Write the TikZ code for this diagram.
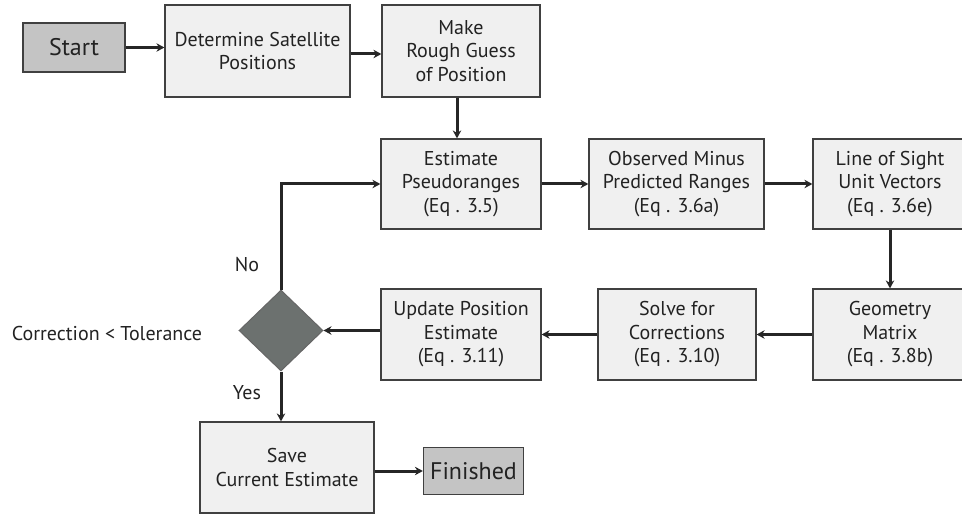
\documentclass[tikz,border=0pt]{standalone}
\usepackage{fontspec}
\setmainfont{PT Sans}
\usetikzlibrary{arrows.meta}
\usetikzlibrary{shapes.geometric}
\definecolor{boxfill}{HTML}{F0F0F0}
\definecolor{endfill}{HTML}{C4C4C4}
\definecolor{decfill}{HTML}{6C716F}
\definecolor{edgegray}{HTML}{404040}
\definecolor{textgray}{HTML}{222222}
\tikzset{
  stepbox/.style={draw=edgegray, line width=1.2pt, fill=boxfill, align=center,
    text=textgray, inner sep=0pt, font=\fontsize{20}{23.5}\selectfont},
  endbox/.style={stepbox, fill=endfill, font=\fontsize{24}{28}\selectfont},
  decision/.style={diamond, draw=edgegray!80, line width=1pt, fill=decfill, inner sep=0pt},
  flow/.style={line width=3pt, draw=black!85, -{Stealth[length=8pt,width=8.5pt]}},
  tag/.style={text=textgray, font=\fontsize{20}{23.5}\selectfont}
}
\begin{document}
\begin{tikzpicture}[x=1pt,y=-1pt]
	\useasboundingbox (0,0) rectangle (962,516);
	\clip (0,0) rectangle (962,516);
	% boxes
	\node[endbox, minimum width=102pt, minimum height=49pt] (start) at (74,47.5) {Start};
	\node[stepbox, minimum width=185pt, minimum height=92pt] (determine) at (257.5,51) {Determine Satellite\\Positions};
	\node[stepbox, minimum width=158pt, minimum height=92pt] (guess) at (461,51) {Make\\Rough Guess\\of Position};
	\node[stepbox, minimum width=160pt, minimum height=90pt] (estimate) at (461,184) {Estimate\\Pseudoranges\\(Eq . 3.5)};
	\node[stepbox, minimum width=175pt, minimum height=90pt] (observed) at (676.5,184) {Observed Minus\\Predicted Ranges\\(Eq . 3.6a)};
	\node[stepbox, minimum width=154pt, minimum height=90pt] (los) at (890,184) {Line of Sight\\Unit Vectors\\(Eq . 3.6e)};
	\node[stepbox, minimum width=154pt, minimum height=91pt] (geometry) at (890,334.5) {Geometry\\Matrix\\(Eq . 3.8b)};
	\node[stepbox, minimum width=158pt, minimum height=91pt] (solve) at (677,334.5) {Solve for\\Corrections\\(Eq . 3.10)};
	\node[stepbox, minimum width=160pt, minimum height=91pt] (update) at (461,334.5) {Update Position\\Estimate\\(Eq . 3.11)};
	\node[decision, minimum width=84pt, minimum height=81pt] (check) at (281,330.5) {};
	\node[stepbox, minimum width=174pt, minimum height=91pt] (save) at (287,467.5) {Save\\Current Estimate};
	\node[endbox, minimum width=100pt, minimum height=47pt] (finished) at (473.5,471) {Finished};
	% labels
	\node[tag] (no) at (247,265) {No};
	\node[tag] (yes) at (247,393) {Yes};
	\node[tag] (cond) at (107,333) {Correction < Tolerance};
	% connectors
	\path[flow] (start.east) -- (start.east -| determine.west);
	\path[flow] ([yshift=-3pt]determine.east) -- ([yshift=-3pt]guess.west);
	\path[flow] ([xshift=-4pt]guess.south) -- ([xshift=-4pt]estimate.north);
	\path[flow] (estimate) -- (observed);
	\path[flow] (observed) -- (los);
	\path[flow] (los) -- (geometry);
	\path[flow] (geometry) -- (solve);
	\path[flow] (solve) -- (update);
	\path[flow] (update.west |- check) -- (check.east);
	\path[flow] (check.north) |- (estimate.west);
	\path[flow] (check.south) -- (check.south |- save.north);
	\path[flow] (save.east |- finished) -- (finished.west);
\end{tikzpicture}
\end{document}
